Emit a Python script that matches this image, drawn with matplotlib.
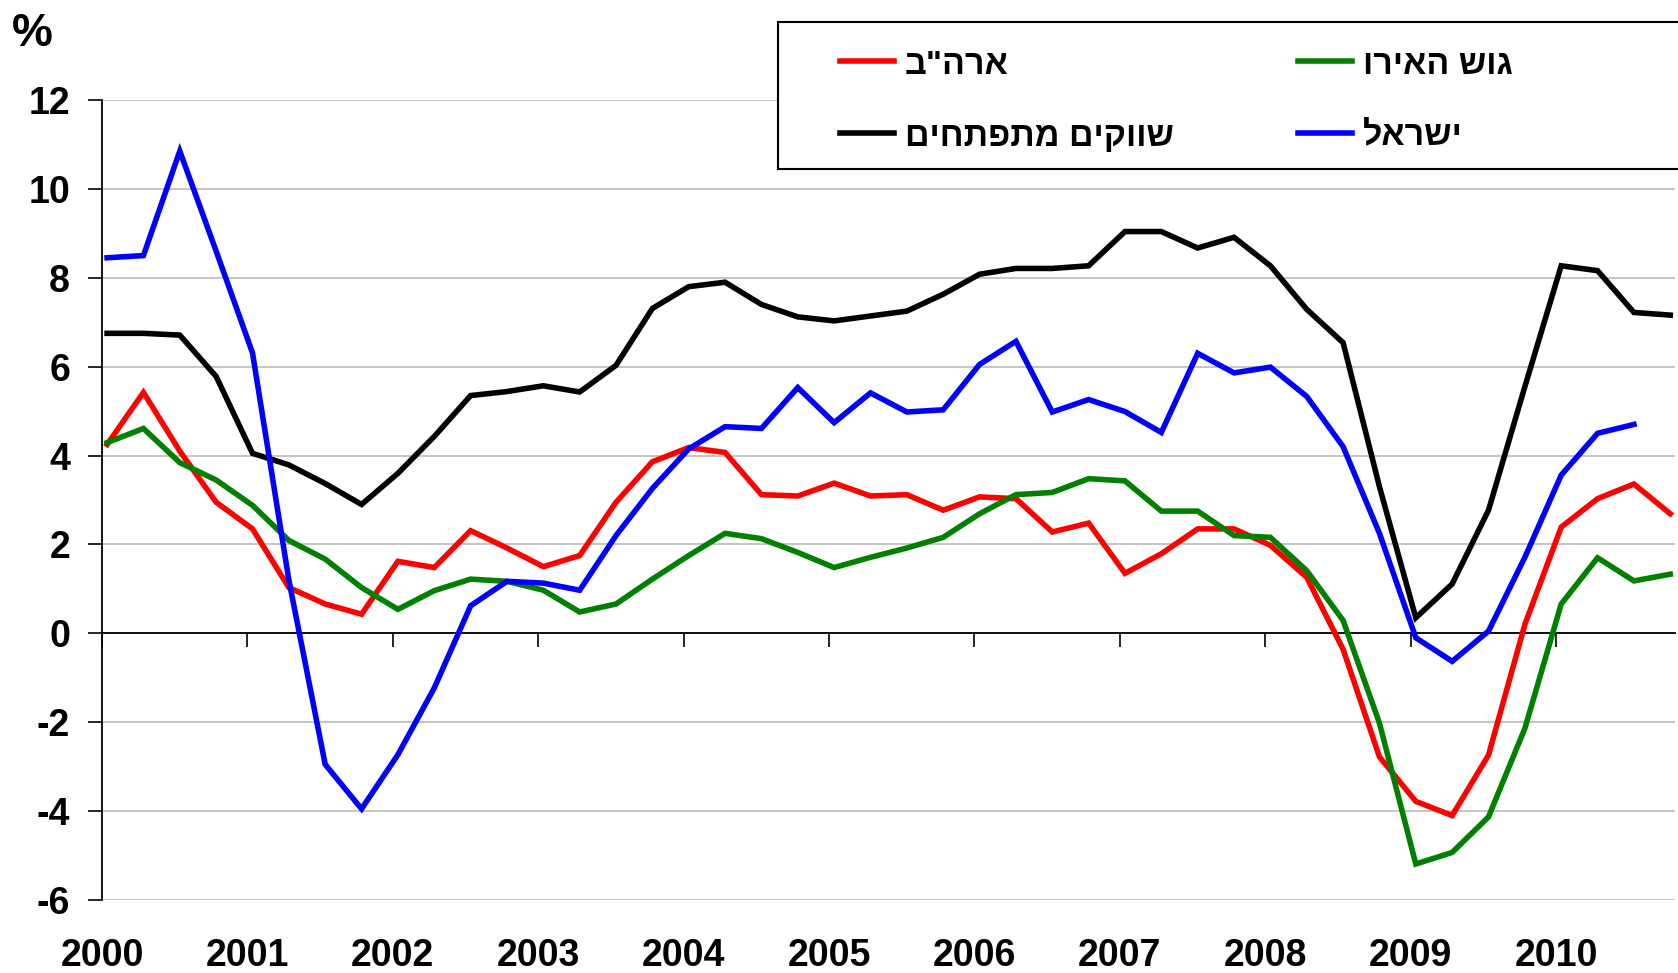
import matplotlib
matplotlib.use("Agg")
import matplotlib.pyplot as plt
from matplotlib.lines import Line2D
from matplotlib.patches import Rectangle
import numpy as np

plt.rcParams['font.family'] = ['Liberation Sans', 'DejaVu Sans']
plt.rcParams['font.weight'] = 'bold'

# Quarterly data 2000Q1 .. 2010Q4
years = [str(y) for y in range(2000, 2011)]

usa = [4.25, 5.42, 4.1, 2.95, 2.35, 1.03, 0.66, 0.43,
       1.62, 1.48, 2.31, 1.92, 1.5, 1.75, 2.95, 3.86,
       4.18, 4.07, 3.12, 3.09, 3.38, 3.09, 3.12, 2.77,
       3.07, 3.03, 2.28, 2.48, 1.35, 1.79, 2.35, 2.35,
       1.98, 1.26, -0.36, -2.78, -3.78, -4.1, -2.74, 0.2,
       2.39, 3.03, 3.36, 2.69]

euro = [4.29, 4.61, 3.84, 3.45, 2.88, 2.09, 1.67, 1.03,
        0.54, 0.96, 1.22, 1.17, 0.97, 0.48, 0.66, 1.22,
        1.75, 2.25, 2.13, 1.82, 1.48, 1.71, 1.92, 2.16,
        2.69, 3.12, 3.17, 3.48, 3.43, 2.75, 2.75, 2.2,
        2.16, 1.41, 0.29, -2.02, -5.19, -4.93, -4.13, -2.14,
        0.66, 1.7, 1.18, 1.33]

emerging = [6.75, 6.75, 6.71, 5.78, 4.05, 3.79, 3.37, 2.9,
            3.6, 4.43, 5.35, 5.44, 5.57, 5.43, 6.03, 7.31,
            7.8, 7.9, 7.4, 7.12, 7.03, 7.14, 7.25, 7.63,
            8.08, 8.21, 8.21, 8.27, 9.04, 9.04, 8.67, 8.91,
            8.27, 7.29, 6.54, 3.3, 0.35, 1.11, 2.77, 5.55,
            8.27, 8.16, 7.22, 7.16]

israel = [8.45, 8.5, 10.85, 8.6, 6.31, 1.2, -2.95, -3.95,
          -2.73, -1.23, 0.62, 1.17, 1.13, 0.97, 2.2, 3.26,
          4.15, 4.65, 4.61, 5.53, 4.74, 5.41, 4.98, 5.03,
          6.05, 6.57, 4.98, 5.26, 4.99, 4.52, 6.3, 5.86,
          5.99, 5.33, 4.2, 2.25, -0.1, -0.63, 0.05, 1.71,
          3.56, 4.5, 4.7]

names = ['ארה"ב', 'שווקים מתפתחים', 'גוש האירו', 'ישראל']
colors = ['#ff0000', '#000000', '#008000', '#0000ff']
series = [usa, emerging, euro, israel]

yticks = [12, 10, 8, 6, 4, 2, 0, -2, -4, -6]

W, H = 1678, 973
fig = plt.figure(figsize=(W / 100, H / 100), dpi=100)
fig.patch.set_facecolor('white')

left, right, top, bottom = 102, 1675, 100, 900
ax = fig.add_axes([left / W, 1 - bottom / H, (right - left) / W, (bottom - top) / H])

for vals, col in zip(series, colors):
    ax.plot(np.arange(len(vals)), vals, color=col, lw=4.0, solid_joinstyle='miter', zorder=3)

off = 0.14
ax.set_xlim(-off, 43.13)
ax.set_ylim(-6, 12)

ax.set_yticks(yticks)
ax.set_yticklabels([str(v) for v in yticks])
ax.tick_params(axis='y', length=10, width=1.2, pad=13, labelsize=27, direction='out')
for lab in ax.get_yticklabels():
    lab.set_fontweight('bold')

ax.yaxis.grid(True, color='#c0c0c0', lw=1.3, zorder=1)
ax.set_axisbelow(True)

ax.spines['top'].set_visible(False)
ax.spines['right'].set_visible(False)
ax.spines['left'].set_linewidth(1.3)
ax.spines['bottom'].set_position(('data', 0))
ax.spines['bottom'].set_linewidth(1.3)
ax.spines['bottom'].set_zorder(2)

xt = [4 * k - off for k in range(len(years))]
ax.set_xticks(xt)
ax.set_xticklabels([''] * len(xt))
ax.tick_params(axis='x', length=10, width=1.2, direction='out')

ybase = -(966 - bottom) / (bottom - top)
for x, lab in zip(xt, years):
    ax.text(x, ybase, lab, transform=ax.get_xaxis_transform(), ha='center', va='baseline',
            fontsize=27, fontweight='bold', clip_on=False)

fig.text(32 / W, 1 - 34 / H, '%', ha='center', va='center', fontsize=33, fontweight='bold')

# Legend box (white, black frame, extends past the right edge)
rect = Rectangle((778 / W, 1 - 169 / H), (W + 20 - 778) / W, (169 - 22) / H,
                 transform=fig.transFigure, facecolor='white', edgecolor='black',
                 lw=1.5, zorder=10, clip_on=False)
fig.add_artist(rect)

leg_pos = [(840, 61), (840, 133), (1298, 61), (1298, 133)]
for (x0, y0), name, col in zip(leg_pos, names, colors):
    ln = Line2D([x0 / W, (x0 + 54) / W], [1 - y0 / H, 1 - y0 / H], transform=fig.transFigure,
                color=col, lw=4.0, zorder=11)
    fig.add_artist(ln)
    fig.text((x0 + 65) / W, 1 - (y0 + 4) / H, name[::-1], ha='left', va='center',
             fontsize=24.5, fontweight='bold', zorder=12)

fig.savefig('out.png', dpi=100, facecolor='white')
